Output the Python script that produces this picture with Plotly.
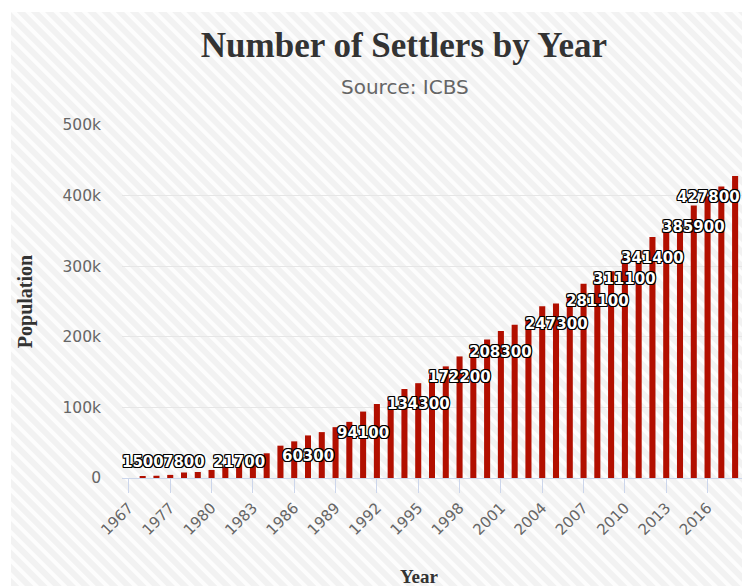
import base64
import plotly.graph_objects as go

# Settler population by year (source: ICBS)
years = ["1967", "1972", "1976", "1977", "1978", "1979", "1980", "1981", "1982",
         "1983", "1984", "1985", "1986", "1987", "1988", "1989", "1990", "1991",
         "1992", "1993", "1994", "1995", "1996", "1997", "1998", "1999", "2000",
         "2001", "2002", "2003", "2004", "2005", "2006", "2007", "2008", "2009",
         "2010", "2011", "2012", "2013", "2014", "2015", "2016", "2017", "2018"]
settlers = [0, 1500, 3200, 4400, 7800, 8500, 11400, 16000, 21700,
            27000, 35000, 45800, 51900, 60300, 65000, 72000, 79500, 94100,
            104800, 115000, 126100, 134300, 147000, 158100, 172200, 183000, 196000,
            208300, 217200, 226000, 243100, 247300, 259000, 275000, 281100, 292700,
            311100, 322000, 341400, 350000, 356000, 385900, 399000, 413000, 427800]

# years whose value label is shown (the rest would overlap their neighbours)
labelled_years = ["1972", "1978", "1982", "1987", "1991", "1995", "1998", "2001",
                  "2005", "2008", "2010", "2012", "2015", "2018"]

y_ticks = [0, 100000, 200000, 300000, 400000, 500000]
y_tick_text = ["0", "100k", "200k", "300k", "400k", "500k"]

W, H = 742, 586
M_L, M_R, M_T, M_B = 122, 0, 125, 108
PLOT_W = W - M_L - M_R
PLOT_H = H - M_T - M_B
Y_MAX = 500000


def paper_x(px):
    """Convert a pixel column of the page into paper units."""
    return (px - M_L) / PLOT_W


def paper_y(px):
    """Convert a pixel row of the page into paper units."""
    return (H - M_B - px) / PLOT_H


# diagonal striped backdrop of the chart container
BG_X0, BG_Y0 = 11, 12
bw, bh = W - BG_X0, H - BG_Y0
svg = (
    f'<svg xmlns="http://www.w3.org/2000/svg" width="{bw}" height="{bh}" '
    f'viewBox="0 0 {bw} {bh}" preserveAspectRatio="none">'
    '<defs><pattern id="s" width="10" height="10" patternUnits="userSpaceOnUse" '
    'patternTransform="rotate(-45)">'
    '<rect width="10" height="10" fill="#f2f2f2"/>'
    '<rect width="4" height="10" fill="#fdfdfd"/>'
    '</pattern></defs>'
    f'<rect width="{bw}" height="{bh}" fill="url(#s)"/></svg>'
)
bg_src = "data:image/svg+xml;base64," + base64.b64encode(svg.encode()).decode()

fig = go.Figure()
fig.add_trace(go.Bar(
    x=years, y=settlers,
    marker=dict(color="#b20f00", line=dict(width=0)),
    hoverinfo="x+y",
))

label_font = dict(family="DejaVu Sans", size=15, color="#ffffff", weight="bold",
                  shadow="-1px -1px 0 #000, 1px -1px 0 #000, -1px 1px 0 #000, "
                         "1px 1px 0 #000, 0 1px 0 #000, 0 -1px 0 #000, "
                         "1px 0 0 #000, -1px 0 0 #000")
# labels sit just inside the top of each column; short columns push them up
label_floor = 52000
annotations = []
for yr in labelled_years:
    i = years.index(yr)
    v = settlers[i]
    ann = dict(x=i, y=max(v, label_floor), xref="x", yref="y",
               text=str(v), showarrow=False, yanchor="middle", yshift=-21,
               font=label_font, xanchor="center")
    if i == len(years) - 1:
        # keep the last label inside the plot area
        ann.update(xanchor="right", xshift=7)
    annotations.append(ann)

annotations.append(dict(
    text="Source: ICBS", xref="paper", yref="paper",
    x=paper_x(404.5), y=paper_y(87),
    showarrow=False, xanchor="center", yanchor="middle",
    font=dict(family="DejaVu Sans", size=20, color="#666666"),
))
annotations.append(dict(
    text="<b>Year</b>", xref="paper", yref="paper",
    x=paper_x(419), y=paper_y(576),
    showarrow=False, xanchor="center", yanchor="middle",
    font=dict(family="Liberation Serif", size=19, color="#333333"),
))

fig.update_layout(
    width=W, height=H,
    margin=dict(l=M_L, r=M_R, t=M_T, b=M_B, pad=0),
    paper_bgcolor="#ffffff",
    plot_bgcolor="rgba(0,0,0,0)",
    showlegend=False,
    bargap=0.56,
    title=dict(
        text="<b>Number of Settlers by Year</b>",
        font=dict(family="Liberation Serif", size=35, color="#333333"),
        x=404 / W, xref="container", xanchor="center",
        y=1 - 45 / H, yref="container", yanchor="middle",
    ),
    xaxis=dict(
        type="category",
        tickmode="linear", tick0=0, dtick=3,
        tickangle=-45,
        ticks="outside", ticklen=14, tickwidth=1.4, tickcolor="#ccd6eb",
        showline=True, linecolor="#ccd6eb", linewidth=1.4,
        showgrid=False, zeroline=False,
        tickfont=dict(family="DejaVu Sans", size=15, color="#666666"),
        range=[-0.5, len(years) - 0.5],
    ),
    yaxis=dict(
        range=[0, Y_MAX],
        tickmode="array", tickvals=y_ticks, ticktext=y_tick_text,
        showgrid=True, gridcolor="#e6e6e6", gridwidth=1.4,
        zeroline=False, showline=False,
        ticks="", ticklabelstandoff=20,
        tickfont=dict(family="DejaVu Sans", size=15.5, color="#666666"),
        title=dict(text="<b>Population</b>", standoff=24,
                   font=dict(family="Liberation Serif", size=20, color="#333333")),
    ),
    annotations=annotations,
    images=[dict(
        source=bg_src, xref="paper", yref="paper",
        x=paper_x(BG_X0), y=paper_y(BG_Y0),
        sizex=bw / PLOT_W, sizey=bh / PLOT_H,
        xanchor="left", yanchor="top", sizing="stretch", layer="below",
    )],
)

fig.write_html("out.html")
